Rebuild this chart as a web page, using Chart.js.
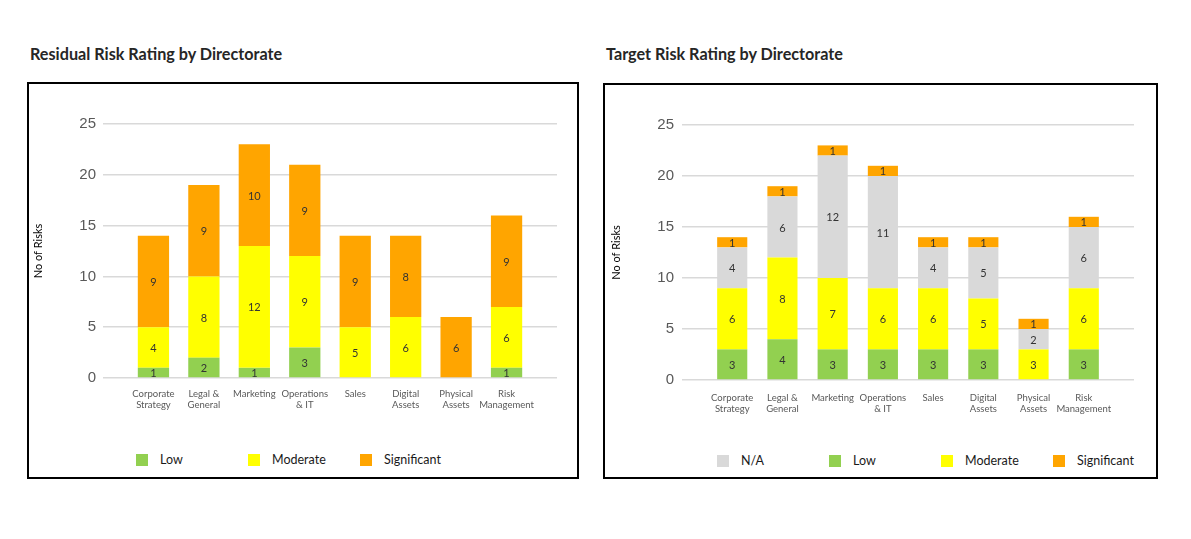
<!DOCTYPE html>
<html>
<head>
<meta charset="utf-8">
<script src="https://cdn.jsdelivr.net/npm/chart.js@4.4.0/dist/chart.umd.min.js"></script>
<style>
    body { margin: 0; background: #fff; width: 1191px; height: 539px; position: relative; overflow: hidden; font-family: Lato, sans-serif; }
    .title { position: absolute; font-weight: bold; font-size: 16.2px; line-height: 18px; color: #262626; }
    .box { position: absolute; border: 2px solid #000; box-sizing: border-box; }
    .box canvas { position: absolute; left: 0; top: 0; }
    .legend { position: absolute; display: flex; font-size: 12.5px; color: #1a1a1a; }
    .legend .item { width: 112px; display: flex; align-items: center; }
    .legend i { width: 12px; height: 12px; margin-right: 12px; display: inline-block; }
</style>
</head>
<body>

<div class="title" style="left:30px; top:45px;">Residual Risk Rating by Directorate</div>
<div class="box" style="left:27px; top:82px; width:552px; height:397px;">
    <canvas id="residual-chart" width="548" height="334"></canvas>
    <div class="legend" id="residual-legend" style="left:107px; top:368px;"></div>
</div>

<div class="title" style="left:606px; top:45px;">Target Risk Rating by Directorate</div>
<div class="box" style="left:603px; top:83px; width:555px; height:396px;">
    <canvas id="target-chart" width="551" height="335"></canvas>
    <div class="legend" id="target-legend" style="left:112px; top:368px;"></div>
</div>

<script>
// categorie (etichette asse x, su due righe)
const categories = [
    ['Corporate', 'Strategy'],
    ['Legal &', 'General'],
    ['Marketing'],
    ['Operations', '& IT'],
    ['Sales'],
    ['Digital', 'Assets'],
    ['Physical', 'Assets'],
    ['Risk', 'Management']
];

const yMax = 25;
const yStep = 5;

// Residual risk
const residualLow = [1, 2, 1, 3, 0, 0, 0, 1];
const residualModerate = [4, 8, 12, 9, 5, 6, 0, 6];
const residualSignificant = [9, 9, 10, 9, 9, 8, 6, 9];

// Target risk
const targetLow = [3, 4, 3, 3, 3, 3, 0, 3];
const targetModerate = [6, 8, 7, 6, 6, 5, 3, 6];
const targetNA = [4, 6, 12, 11, 4, 5, 2, 6];
const targetSignificant = [1, 1, 1, 1, 1, 1, 1, 1];

const colorLow = '#92d050';
const colorModerate = '#ffff00';
const colorSignificant = '#ffa500';
const colorNA = '#d9d9d9';

const toPoints = values => values.map((v, i) => ({ x: i, y: v }));

// scrive il valore al centro di ogni segmento
const segmentLabels = {
    id: 'segmentLabels',
    afterDatasetsDraw(chart) {
        const ctx = chart.ctx;
        ctx.save();
        ctx.font = '11px Lato';
        ctx.fillStyle = '#333';
        ctx.textAlign = 'center';
        ctx.textBaseline = 'middle';
        chart.data.datasets.forEach((ds, i) => {
            chart.getDatasetMeta(i).data.forEach((bar, j) => {
                const v = ds.data[j].y;
                if (!v) return;
                ctx.fillText(v, bar.x, (bar.y + bar.base) / 2 + 1);
            });
        });
        ctx.restore();
    }
};

function buildChart(id, datasets, opt) {
    return new Chart(id, {
        type: 'bar',
        data: { datasets: datasets },
        plugins: [segmentLabels],
        options: {
            responsive: false,
            animation: false,
            layout: { padding: { left: 0, right: opt.right, top: 40, bottom: 0 } },
            datasets: { bar: { barPercentage: opt.bar, categoryPercentage: 1 } },
            plugins: {
                legend: { display: false },
                tooltip: { enabled: false }
            },
            scales: {
                x: {
                    type: 'linear',
                    stacked: true,
                    offset: false,
                    min: -1,
                    max: categories.length,
                    grid: { display: false, drawTicks: false, offset: false },
                    border: { display: false },
                    ticks: {
                        stepSize: 1,
                        autoSkip: false,
                        maxRotation: 0,
                        padding: opt.xPad,
                        color: '#595959',
                        font: { family: 'Lato', size: 9.5 },
                        callback: v => categories[v] || ''
                    },
                    afterFit: s => { s.height = 40; }
                },
                y: {
                    stacked: true,
                    min: 0,
                    max: yMax,
                    grid: { color: '#d9d9d9', lineWidth: 1.5, drawTicks: false },
                    border: { display: false },
                    ticks: {
                        stepSize: yStep,
                        padding: opt.yPad,
                        color: '#595959',
                        font: { family: 'Liberation Sans', size: 15 }
                    },
                    title: {
                        display: true,
                        text: 'No of Risks',
                        color: '#000',
                        font: { family: 'Lato', size: 11 },
                        padding: { top: opt.titlePad, bottom: 0 }
                    },
                    afterFit: s => { s.width = opt.left; }
                }
            }
        }
    });
}

function buildLegend(chart, id, order) {
    const el = document.getElementById(id);
    order.forEach(i => {
        const ds = chart.data.datasets[i];
        const item = document.createElement('span');
        item.className = 'item';
        item.innerHTML = '<i style="background:' + ds.backgroundColor + '"></i>' + ds.label;
        el.appendChild(item);
    });
}

const residualChart = buildChart('residual-chart', [
    { label: 'Low', data: toPoints(residualLow), backgroundColor: colorLow },
    { label: 'Moderate', data: toPoints(residualModerate), backgroundColor: colorModerate },
    { label: 'Significant', data: toPoints(residualSignificant), backgroundColor: colorSignificant }
], { left: 74, right: 20, xPad: 10, yPad: 7, titlePad: 3, bar: 0.62 });
buildLegend(residualChart, 'residual-legend', [0, 1, 2]);

const targetChart = buildChart('target-chart', [
    { label: 'Low', data: toPoints(targetLow), backgroundColor: colorLow },
    { label: 'Moderate', data: toPoints(targetModerate), backgroundColor: colorModerate },
    { label: 'N/A', data: toPoints(targetNA), backgroundColor: colorNA },
    { label: 'Significant', data: toPoints(targetSignificant), backgroundColor: colorSignificant }
], { left: 77, right: 22, xPad: 12, yPad: 8, titlePad: 5, bar: 0.6 });
buildLegend(targetChart, 'target-legend', [2, 0, 1, 3]);
</script>
</body>
</html>
